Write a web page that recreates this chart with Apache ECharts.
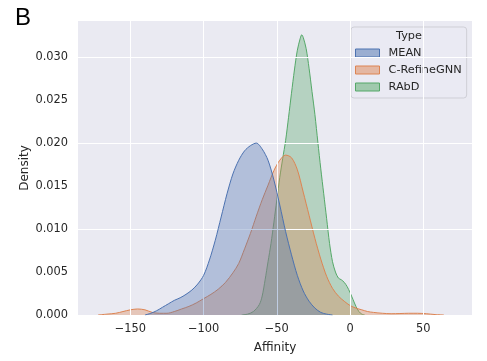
<!DOCTYPE html>
<html>
<head>
<meta charset="utf-8">
<script src="https://cdn.jsdelivr.net/npm/echarts@6/dist/echarts.min.js"></script>
<style>
html,body{margin:0;padding:0;background:#fff;}
#c{width:487px;height:361px;}
</style>
</head>
<body>
<div id="c"></div>
<script>
// ---- data ----
const seriesNames = ['MEAN', 'C-RefineGNN', 'RAbD'];
const xTicks = [-150, -100, -50, 0, 50];
const yTicks = [0, 0.005, 0.010, 0.015, 0.020, 0.025, 0.030];

const meanX = [-140,-136,-132,-128,-124,-120,-116,-112,-108,-104,-100,-96,-92,-88,-84,-80,-76,-72,-68,-64,-60,-56,-52,-48,-44,-40,-36,-32,-28,-24,-20,-16,-12];
const meanY = [0,0.0002,0.0005,0.0009,0.0013,0.0017,0.0020,0.0024,0.0029,0.0036,0.0046,0.0064,0.0087,0.0114,0.0141,0.0164,0.0180,0.0191,0.0197,0.0200,0.0193,0.0180,0.0157,0.0128,0.0097,0.0070,0.0046,0.0028,0.0016,0.0008,0.0003,0.0001,0];

const crefX = [-172,-166,-160,-155,-150,-145,-140,-135,-130,-125,-120,-115,-110,-105,-100,-95,-90,-85,-80,-76,-72,-68,-64,-60,-56,-52,-48,-44,-40,-36,-32,-28,-24,-20,-16,-12,-8,-4,0,4,8,12,16,22,28,34,40,46,52,58,64];
const crefY = [0,0.0001,0.0002,0.0004,0.0006,0.0007,0.0006,0.0003,0.0002,0.0002,0.0004,0.0007,0.0010,0.0014,0.0019,0.0024,0.0030,0.0038,0.0049,0.0060,0.0077,0.0095,0.0115,0.0134,0.0151,0.0168,0.0180,0.0186,0.0183,0.0169,0.0143,0.0116,0.0089,0.0065,0.0045,0.0031,0.0022,0.0016,0.0011,0.0008,0.0006,0.0004,0.0003,0.0002,0.00015,0.00017,0.0002,0.0002,0.00015,0.00005,0];

const rabdX = [-74,-70,-66,-62,-60,-58,-56,-54,-52,-50,-48,-46,-44,-42,-40,-38,-36,-34,-33,-32,-30,-28,-26,-24,-22,-20,-18,-16,-14,-12,-10,-8,-6,-4,-2,0,2,4,6,8,10];
const rabdY = [0,0.0001,0.0004,0.0012,0.0022,0.0041,0.0062,0.0083,0.0108,0.0134,0.0160,0.0182,0.0203,0.0230,0.0258,0.0285,0.0308,0.0322,0.0326,0.0323,0.0310,0.0287,0.0260,0.0233,0.0201,0.0170,0.0141,0.0112,0.0083,0.0062,0.0050,0.0043,0.0041,0.0038,0.0033,0.0026,0.0018,0.0010,0.0004,0.0001,0];

// ---- styling ----
const colors = ['#4c72b0', '#dd8452', '#55a868'];
const fills = ['rgba(76,114,176,0.5)', 'rgba(221,132,82,0.5)', 'rgba(85,168,104,0.5)'];
const FONT = 'DejaVu Sans';
const TXT = '#262626';

function pairs(xs, ys) { return xs.map((x, i) => [x, ys[i]]); }
const allX = [meanX, crefX, rabdX];
const allY = [meanY, crefY, rabdY];
const zs = [5, 4, 3];

const areaSeries = seriesNames.map((name, i) => ({
  name: name,
  type: 'line',
  data: pairs(allX[i], allY[i]),
  showSymbol: false,
  symbol: 'none',
  smooth: 0.3,
  z: zs[i],
  lineStyle: { color: colors[i], width: 1 },
  itemStyle: { color: colors[i] },
  areaStyle: { color: fills[i], origin: 'start' },
  silent: true
}));

const gridSeries = {
  name: 'grid',
  type: 'line',
  data: [],
  z: 1,
  silent: true,
  markLine: {
    silent: true,
    symbol: ['none', 'none'],
    label: { show: false },
    lineStyle: { color: '#ffffff', width: 1, type: 'solid' },
    emphasis: { disabled: true },
    animation: false,
    data: xTicks.map(v => ({ xAxis: v })).concat(yTicks.map(v => ({ yAxis: v })))
  }
};

const chart = echarts.init(document.getElementById('c'), null, { renderer: 'canvas' });
chart.setOption({
  animation: false,
  backgroundColor: '#ffffff',
  title: [
    { text: 'B', left: 15, top: 6, padding: 0,
      textStyle: { fontFamily: 'Liberation Sans', fontSize: 24, fontWeight: 'normal', color: '#000' } },
    { text: 'Type', left: 409, textAlign: 'center', top: 31, padding: 0,
      textStyle: { fontFamily: FONT, fontSize: 11.3, fontWeight: 'normal', color: TXT } }
  ],
  legend: {
    orient: 'vertical',
    left: 351, top: 27,
    padding: [19, 5, 4, 4],
    itemWidth: 24, itemHeight: 8, itemGap: 3,
    icon: 'rect',
    backgroundColor: 'rgba(234,234,242,0.8)',
    borderColor: '#cfcfd6', borderWidth: 1, borderRadius: 3,
    selectedMode: false,
    textStyle: { fontFamily: FONT, fontSize: 11.3, color: TXT, lineHeight: 14, padding: [0, 0, 0, 4] },
    data: seriesNames.map((n, i) => ({
      name: n, icon: 'rect',
      itemStyle: { color: fills[i], borderColor: colors[i], borderWidth: 1 }
    }))
  },
  grid: {
    left: 78, right: 15, top: 21, bottom: 46,
    show: true, backgroundColor: '#eaeaf2', borderWidth: 0
  },
  xAxis: {
    type: 'value',
    min: -185.7, max: 83.2,
    name: 'Affinity', nameLocation: 'middle', nameGap: 27,
    nameMoveOverlap: false,
    nameTextStyle: { fontFamily: FONT, fontSize: 12, color: TXT },
    axisLine: { show: false }, axisTick: { show: false },
    splitLine: { show: false },
    axisLabel: {
      customValues: xTicks, margin: 9,
      fontFamily: FONT, fontSize: 11.4, color: TXT,
      formatter: v => String(v).replace('-', '\u2212')
    }
  },
  yAxis: {
    type: 'value',
    min: 0, max: 0.0342,
    name: 'Density', nameLocation: 'middle', nameGap: 47,
    nameMoveOverlap: false,
    nameTextStyle: { fontFamily: FONT, fontSize: 12, color: TXT },
    axisLine: { show: false }, axisTick: { show: false },
    splitLine: { show: false },
    axisLabel: {
      customValues: yTicks, margin: 10,
      fontFamily: FONT, fontSize: 11.4, color: TXT,
      formatter: v => v.toFixed(3)
    }
  },
  series: [gridSeries].concat(areaSeries)
});
</script>
</body>
</html>
